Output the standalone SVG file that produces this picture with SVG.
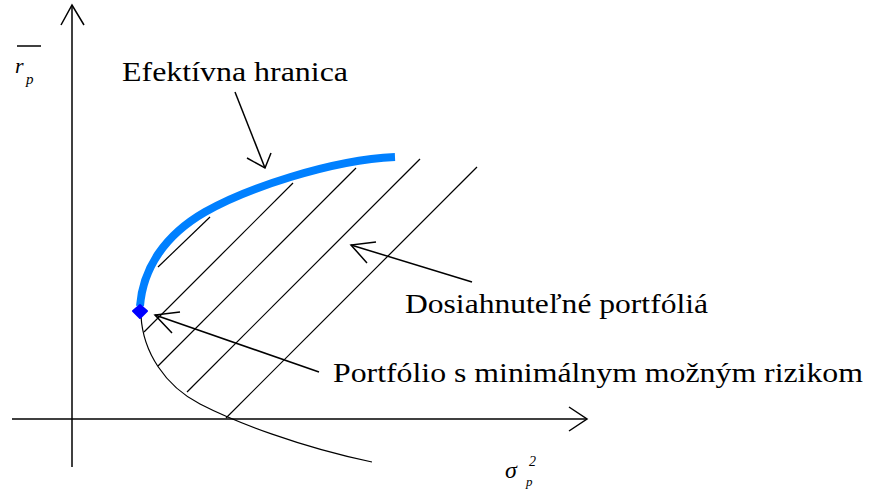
<svg xmlns="http://www.w3.org/2000/svg" width="870" height="490" viewBox="0 0 870 490">
<style>
.ln{fill:none;stroke:#000;stroke-width:1.5}
.th{fill:none;stroke:#000;stroke-width:1.2}
.lbl{font-size:27px;fill:#000}
.it{font-style:italic;fill:#000}
</style>
<rect width="870" height="490" fill="#fff"/>
<g id="axes">
<line class="ln" x1="72" y1="467" x2="72" y2="5"/>
<polyline class="ln" points="61,25 72,5 84,25"/>
<line class="ln" x1="12" y1="419" x2="587" y2="419"/>
<polyline class="ln" points="569,407 587,419 569,431"/>
</g>
<g id="axis-labels" font-family="'Liberation Serif', 'DejaVu Serif', 'Times New Roman', serif">
<line x1="17" y1="46" x2="41" y2="46" stroke="#000" stroke-width="1.5"/>
<text class="it" x="15" y="73" font-size="22">r</text>
<text class="it" x="26" y="84" font-size="15">p</text>
<text class="it" x="505" y="478" font-size="24">σ</text>
<text class="it" x="529" y="466" font-size="14">2</text>
<text class="it" x="526" y="486" font-size="13">p</text>
</g>
<g id="hatching">
<line class="th" x1="158" y1="267" x2="210" y2="217"/>
<line class="th" x1="144" y1="332" x2="293" y2="183"/>
<line class="th" x1="158" y1="366" x2="356" y2="168"/>
<line class="th" x1="187" y1="392" x2="420" y2="159"/>
<line class="th" x1="226" y1="418" x2="477" y2="167"/>
</g>
<g id="lower-boundary">
<path class="th" d="M141,316 C143,352 165,386 200,404 S 300,447 372,462"/>
</g>
<g id="efficient-frontier">
<path d="M140,306 C143,268 165,235 205,212 S 330,160 395,157" fill="none" stroke="#0080ff" stroke-width="8"/>
</g>
<g id="min-risk-point">
<polygon points="140,305 147,311 140,318 133,311" fill="#0000ff" stroke="#0000ff" stroke-width="2" stroke-linejoin="round"/>
</g>
<g id="connectors">
<line class="ln" x1="235" y1="92" x2="265" y2="168"/>
<polyline class="ln" points="247,158 265,168 271,153"/>
<line class="ln" x1="472" y1="282" x2="351" y2="245"/>
<polyline class="ln" points="376,242 351,245 367,263"/>
<line class="ln" x1="319" y1="372" x2="155" y2="315"/>
<polyline class="ln" points="180,312 155,315 172,333"/>
</g>
<g id="labels" font-family="'Liberation Serif', 'DejaVu Serif', 'Times New Roman', serif">
<text class="lbl" x="122" y="81" textLength="226" lengthAdjust="spacingAndGlyphs">Efektívna hranica</text>
<text class="lbl" x="405" y="313" textLength="303" lengthAdjust="spacingAndGlyphs">Dosiahnuteľné portfóliá</text>
<text class="lbl" x="333" y="382" textLength="530" lengthAdjust="spacingAndGlyphs">Portfólio s minimálnym možným rizikom</text>
</g>
</svg>
